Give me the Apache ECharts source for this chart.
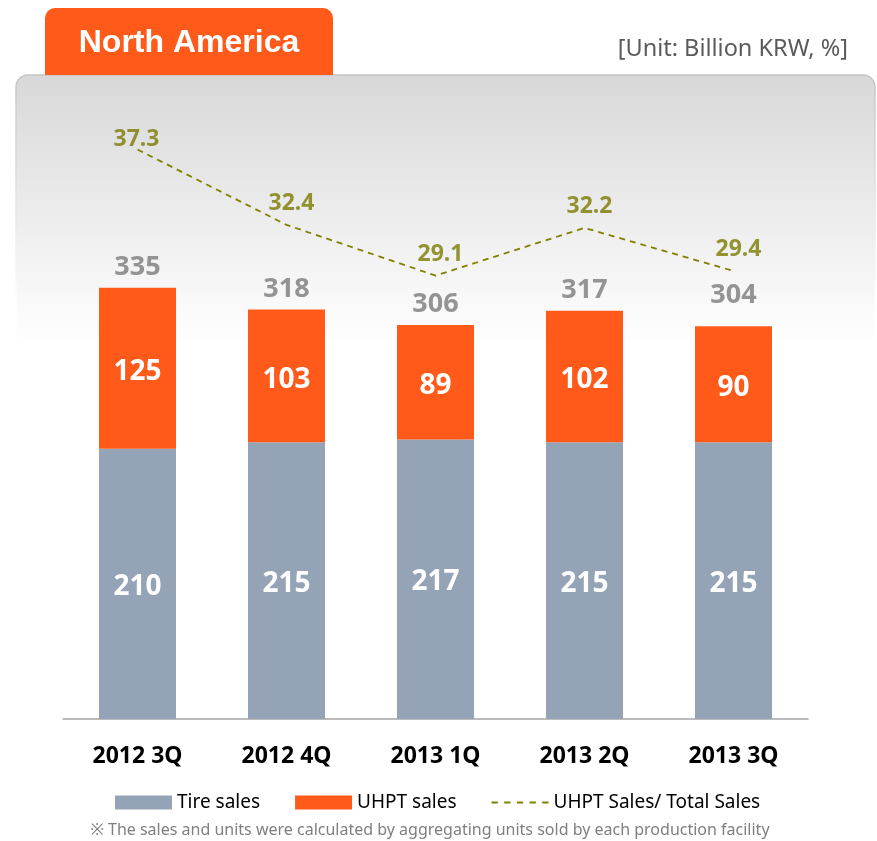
<!DOCTYPE html>
<html>
<head>
<meta charset="utf-8">
<script src="https://cdn.jsdelivr.net/npm/echarts@6/dist/echarts.min.js"></script>
<style>
html,body{margin:0;padding:0;background:#fff;}
#chart{width:877px;height:841px;}
</style>
</head>
<body>
<div id="chart"></div>
<script>
var categories = ['2012 3Q', '2012 4Q', '2013 1Q', '2013 2Q', '2013 3Q'];
var tireSales = [210, 215, 217, 215, 215];
var uhptSales = [125, 103, 89, 102, 90];
var totalSales = [335, 318, 306, 317, 304];
var uhptRatio = [37.3, 32.4, 29.1, 32.2, 29.4];

var chart = echarts.init(document.getElementById('chart'), null, {renderer: 'canvas'});
var FONT = '"Noto Sans", sans-serif';
var dashIcon = 'path://M0,0h6v2h-6zM12,0h6v2h-6zM24,0h6v2h-6zM36,0h6v2h-6zM48,0h6v2h-6z';

var totalData = totalSales.map(function (v, i) {
  return i === totalSales.length - 1 ? {value: v, label: {offset: [0, -12]}} : v;
});
var ratioData = uhptRatio.map(function (v, i) {
  return i === 0 ? {value: v, label: {offset: [-1, 11]}} : v;
});

var option = {
  backgroundColor: '#ffffff',
  animation: false,
  graphic: [
    {
      type: 'rect', z: -20,
      shape: {x: 16, y: 75, width: 859, height: 270, r: [12, 12, 0, 0]},
      style: {
        fill: new echarts.graphic.LinearGradient(0, 0, 0, 1, [
          {offset: 0, color: '#d8d8d8'},
          {offset: 1, color: '#ffffff'}
        ]),
        stroke: new echarts.graphic.LinearGradient(0, 0, 0, 1, [
          {offset: 0, color: '#c4c4c4'},
          {offset: 0.85, color: '#ffffff'},
          {offset: 1, color: '#ffffff'}
        ]),
        lineWidth: 1.5
      }
    },
    {
      type: 'rect', z: -10,
      shape: {x: 45, y: 8, width: 288, height: 67, r: [10, 10, 0, 0]},
      style: {fill: '#ff5a1a'}
    },
    {
      type: 'text', z: -5,
      x: 189, y: 43,
      style: {
        text: 'North America', fill: '#ffffff',
        font: 'bold 32px "Liberation Sans", Arial, sans-serif',
        textAlign: 'center', textVerticalAlign: 'middle'
      }
    },
    {
      type: 'text',
      x: 848, y: 49,
      style: {
        text: '[Unit: Billion KRW, %]', fill: '#5a5a5a',
        font: '23.5px ' + FONT,
        textAlign: 'right', textVerticalAlign: 'middle'
      }
    },
    {
      type: 'text',
      x: 430, y: 830,
      style: {
        text: '\u203B The sales and units were calculated by aggregating units sold by each production facility',
        fill: '#7f7f7f',
        font: '16px ' + FONT,
        textAlign: 'center', textVerticalAlign: 'middle'
      }
    }
  ],
  legend: {
    left: 115, top: 793, padding: 0,
    itemWidth: 57, itemHeight: 14, itemGap: 35,
    textStyle: {fontFamily: FONT, fontSize: 19, color: '#000000'},
    data: [
      {name: 'Tire sales', icon: 'rect'},
      {name: 'UHPT sales', icon: 'rect'},
      {name: 'UHPT Sales/ Total Sales', icon: dashIcon}
    ]
  },
  grid: [
    {left: 63, right: 69, top: 204, bottom: 122},
    {left: 63, right: 69, top: 108, bottom: 118}
  ],
  xAxis: [
    {
      type: 'category', gridIndex: 0, data: categories,
      axisLine: {lineStyle: {color: '#a6a6a6', width: 1.5}},
      axisTick: {show: false},
      axisLabel: {margin: 26, fontFamily: FONT, fontSize: 23, fontWeight: 'bold', color: '#000000'}
    },
    {
      type: 'category', gridIndex: 1, data: categories, show: false
    }
  ],
  yAxis: [
    {type: 'value', gridIndex: 0, min: 0, max: 400, show: false, splitLine: {show: false}},
    {type: 'value', gridIndex: 1, min: 0, max: 40, show: false, splitLine: {show: false}}
  ],
  series: [
    {
      name: 'Tire sales', type: 'bar', stack: 'sales',
      xAxisIndex: 0, yAxisIndex: 0, barWidth: 77,
      itemStyle: {color: '#95a3b6'},
      label: {show: true, position: 'inside', offset: [0, 3], color: '#ffffff', fontFamily: FONT, fontSize: 28, fontWeight: 'bold'},
      data: tireSales
    },
    {
      name: 'UHPT sales', type: 'bar', stack: 'sales',
      xAxisIndex: 0, yAxisIndex: 0, barWidth: 77,
      itemStyle: {color: '#ff5a1a'},
      label: {show: true, position: 'inside', offset: [0, 4], color: '#ffffff', fontFamily: FONT, fontSize: 28, fontWeight: 'bold'},
      data: uhptSales
    },
    {
      name: 'Total', type: 'scatter',
      xAxisIndex: 0, yAxisIndex: 0,
      symbolSize: 0, silent: true,
      label: {show: true, position: 'top', distance: 7, color: '#7a7a7a', fontFamily: FONT, fontSize: 27, fontWeight: 'bold'},
      data: totalData
    },
    {
      name: 'UHPT Sales/ Total Sales', type: 'line',
      xAxisIndex: 1, yAxisIndex: 1,
      symbol: 'none', clip: false, z: 5,
      lineStyle: {color: '#808000', width: 1.8, type: [6, 5]},
      itemStyle: {color: '#808000'},
      data: uhptRatio
    },
    {
      name: 'Ratio labels', type: 'scatter',
      xAxisIndex: 1, yAxisIndex: 1,
      symbolSize: 0, silent: true, z: 6,
      label: {show: true, position: 'top', distance: 10, offset: [5, 0], color: '#7a7a00', fontFamily: FONT, fontSize: 23, fontWeight: 'bold',
        formatter: function (p) { return p.value.toFixed(1); }},
      data: ratioData
    }
  ]
};
chart.setOption(option);
</script>
</body>
</html>
